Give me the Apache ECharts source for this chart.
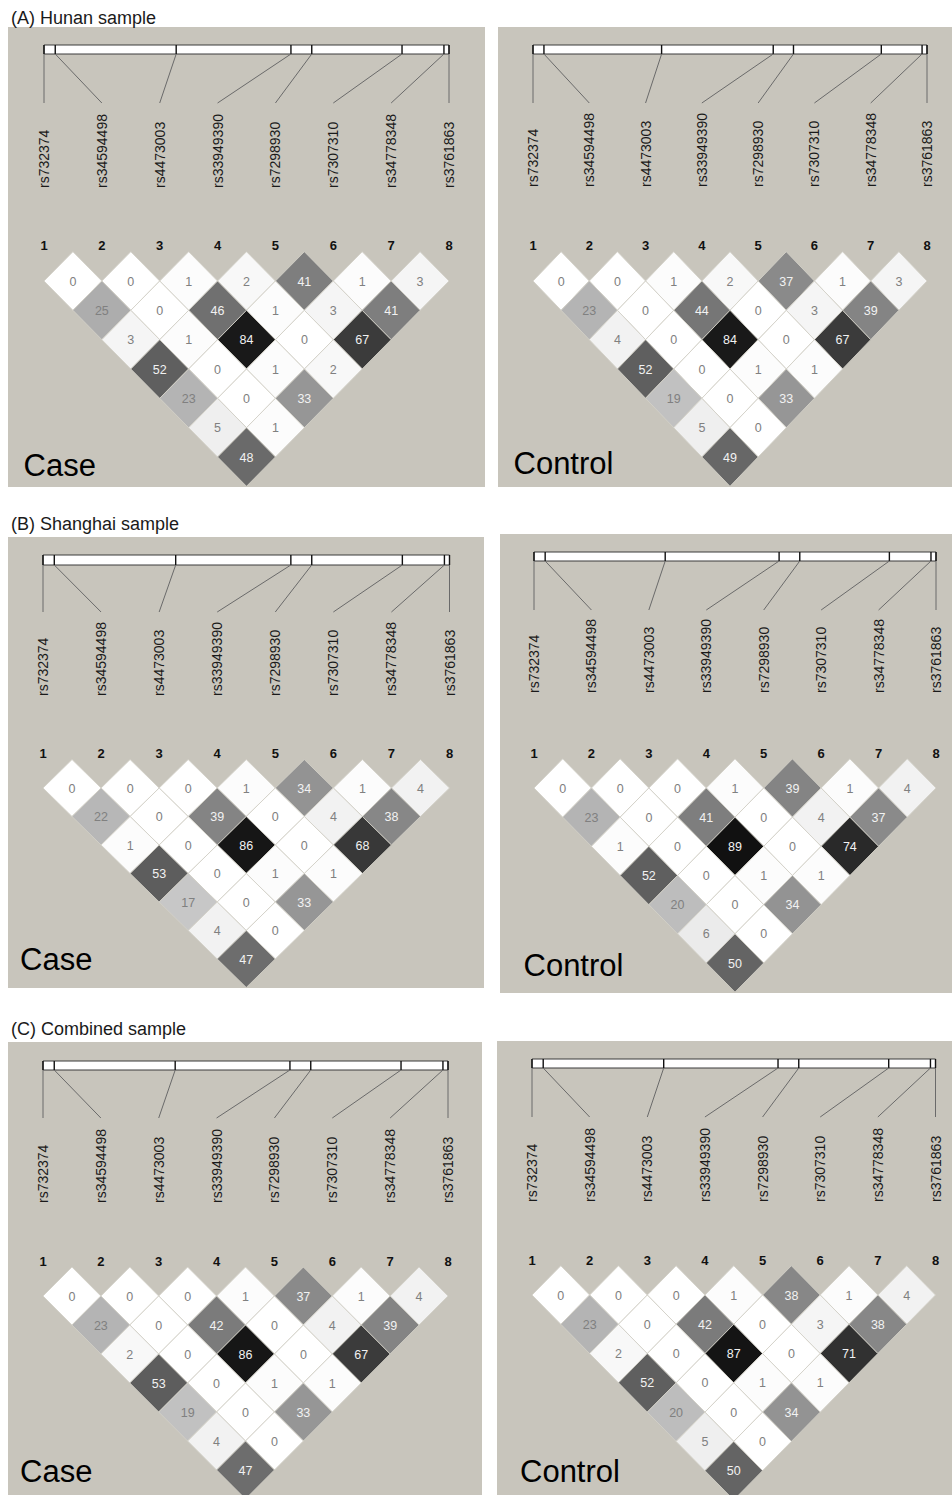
<!DOCTYPE html>
<html><head><meta charset="utf-8">
<script src="https://cdn.jsdelivr.net/npm/echarts@6/dist/echarts.min.js"></script>
<style>html,body{margin:0;padding:0;background:#fff}#c{width:952px;height:1495px}</style>
</head><body><div id="c"></div>
<script>
// ---------------- data ----------------
const snpNames = ['rs732374','rs34594498','rs4473003','rs33949390','rs7298930','rs7307310','rs34778348','rs3761863'];
const snpIndex = [1,2,3,4,5,6,7,8];
const snpPosKb = [0, 4.0, 47.0, 87.8, 95.2, 127.3, 142.2, 144.0];   // relative physical positions (estimated)
const sectionTitles = ['(A) Hunan sample','(B) Shanghai sample','(C) Combined sample'];
const groupLabels = ['Case','Control'];
// r^2 x 100; each inner array = pairs at SNP distance 1..7, left to right
const hunanCase = [[0,0,1,2,41,1,3],[25,0,46,1,3,41],[3,1,84,0,67],[52,0,1,2],[23,0,33],[5,1],[48]];
const hunanControl = [[0,0,1,2,37,1,3],[23,0,44,0,3,39],[4,0,84,0,67],[52,0,1,1],[19,0,33],[5,0],[49]];
const shanghaiCase = [[0,0,0,1,34,1,4],[22,0,39,0,4,38],[1,0,86,0,68],[53,0,1,1],[17,0,33],[4,0],[47]];
const shanghaiControl = [[0,0,0,1,39,1,4],[23,0,41,0,4,37],[1,0,89,0,74],[52,0,1,1],[20,0,34],[6,0],[50]];
const combinedCase = [[0,0,0,1,37,1,4],[23,0,42,0,4,39],[2,0,86,0,67],[53,0,1,1],[19,0,33],[4,0],[47]];
const combinedControl = [[0,0,0,1,38,1,4],[23,0,42,0,3,38],[2,0,87,0,71],[52,0,1,1],[20,0,34],[5,0],[50]];

// ---------------- layout ----------------
const panels = [
 {data:hunanCase, sec:0, grp:0, bg:[8,27,485,487], x1:44, x8:449, barTop:45, barBot:54, lineEnd:103, textBottom:188, numY:245, row0:281, rowLast:457, lx:23.5, ly:465.3},
 {data:hunanControl, sec:0, grp:1, bg:[498,27,952,487], x1:533, x8:927, barTop:45, barBot:54, lineEnd:103, textBottom:187, numY:245, row0:281, rowLast:457, lx:513.5, ly:463.5},
 {data:shanghaiCase, sec:1, grp:0, bg:[8,537,484,988], x1:43, x8:449.5, barTop:555, barBot:565, lineEnd:612, textBottom:696, numY:753, row0:788, rowLast:959, lx:20, ly:959},
 {data:shanghaiControl, sec:1, grp:1, bg:[500,534,952,993], x1:534, x8:936, barTop:552, barBot:561, lineEnd:610, textBottom:693, numY:753, row0:788, rowLast:963, lx:523.5, ly:965},
 {data:combinedCase, sec:2, grp:0, bg:[8,1042,482,1495], x1:43, x8:448, barTop:1061, barBot:1070, lineEnd:1118, textBottom:1203, numY:1261, row0:1296, rowLast:1470, lx:20, ly:1471},
 {data:combinedControl, sec:2, grp:1, bg:[497,1041,952,1495], x1:532, x8:935.5, barTop:1059, barBot:1068, lineEnd:1117, textBottom:1202, numY:1260, row0:1295, rowLast:1470.7, lx:520, ly:1471}
];
const sectionTitleY = [17.5, 523.5, 1028.5];
const BG = '#c8c5bc';
const FONT = 'Liberation Sans, Arial, sans-serif';
const nSnp = snpIndex.length;
const nRows = nSnp - 1;

const grids = [], xAxes = [], yAxes = [], series = [], graphics = [], titles = [];
const diamondSeries = [];

sectionTitles.forEach((t, s) => {
  titles.push({text: t, left: 11, top: sectionTitleY[s] - 11, padding: 0,
    textStyle: {fontSize: 18, fontWeight: 'normal', color: '#1a1a1a', fontFamily: FONT, lineHeight: 22}});
});

panels.forEach((L, k) => {
  const step = (L.rowLast - L.row0) / (nRows - 1);
  const gTop = L.row0 - step;
  grids.push({left: L.x1, top: gTop, width: L.x8 - L.x1, height: (nRows + 1) * step,
              containLabel: false, outerBoundsMode: 'none', show: false});
  graphics.push({type: 'rect', z: -10, silent: true,
    shape: {x: L.bg[0], y: L.bg[1], width: L.bg[2] - L.bg[0], height: L.bg[3] - L.bg[1]},
    style: {fill: BG}});
  titles.push({text: groupLabels[L.grp], left: L.lx, top: L.ly - 18, padding: 0,
    textStyle: {fontSize: 31, fontWeight: 'normal', color: '#000', fontFamily: FONT, lineHeight: 36}});

  const common = {type: 'value', gridIndex: k, position: 'top', min: snpIndex[0], max: snpIndex[nSnp - 1], interval: 1,
    axisLine: {show: false}, axisTick: {show: false}, splitLine: {show: false}};
  // index numbers
  xAxes.push(Object.assign({}, common, {axisLabel: {show: true, margin: gTop - L.numY, verticalAlign: 'middle',
    fontWeight: 'bold', fontSize: 13, color: '#111', fontFamily: FONT, showMinLabel: true, showMaxLabel: true, hideOverlap: false,
    formatter: v => String(snpIndex[Math.round(v) - 1])}}));
  // SNP names
  xAxes.push(Object.assign({}, common, {axisLabel: {show: true, margin: gTop - L.textBottom, rotate: -90,
    fontSize: 14, color: '#1a1a1a', fontFamily: FONT, showMinLabel: true, showMaxLabel: true, hideOverlap: false,
    formatter: v => snpNames[Math.round(v) - 1]}}));
  yAxes.push({type: 'value', gridIndex: k, min: -1, max: nRows, inverse: true, show: false});

  // physical map: bar, ticks, connector lines
  const p0 = snpPosKb[0], pN = snpPosKb[nSnp - 1];
  series.push({type: 'custom', xAxisIndex: 2 * k, yAxisIndex: k, clip: false, silent: true, z: 3,
    data: snpIndex.map((idx, m) => [idx, snpPosKb[m]]),
    renderItem: (params, api) => {
      const idx = api.value(0), pos = api.value(1);
      const frac = snpIndex[0] + (nSnp - 1) * (pos - p0) / (pN - p0);
      const tx = api.coord([frac, 0])[0];
      const lx = api.coord([idx, 0])[0];
      const ch = [];
      if (params.dataIndex === 0) {
        const xa = api.coord([snpIndex[0], 0])[0], xb = api.coord([snpIndex[nSnp - 1], 0])[0];
        ch.push({type: 'rect', shape: {x: xa, y: L.barTop, width: xb - xa, height: L.barBot - L.barTop},
          style: {fill: '#ffffff', stroke: '#3a3a3a', lineWidth: 1}});
      }
      ch.push({type: 'line', shape: {x1: tx, y1: L.barTop, x2: tx, y2: L.barBot}, style: {stroke: '#111', lineWidth: 1.4}});
      ch.push({type: 'line', shape: {x1: tx, y1: L.barBot, x2: lx, y2: L.lineEnd}, style: {stroke: '#6a6a6a', lineWidth: 1}});
      return {type: 'group', children: ch};
    }});

  // LD diamonds
  const dd = [];
  L.data.forEach((row, r) => row.forEach((v, m) => {
    const i = snpIndex[m], j = snpIndex[m + r + 1];
    dd.push([(i + j) / 2, r, v]);
  }));
  diamondSeries.push(series.length);
  series.push({type: 'custom', xAxisIndex: 2 * k, yAxisIndex: k, clip: false, silent: true, z: 4,
    dimensions: ['cx', 'row', 'r2'], encode: {x: 0, y: 1},
    data: dd,
    renderItem: (params, api) => {
      const cx = api.value(0), r = api.value(1), v = api.value(2);
      const c = api.coord([cx, r]), t = api.coord([cx, r - 1]), b = api.coord([cx, r + 1]);
      const l = api.coord([cx - 0.5, r]), rt = api.coord([cx + 0.5, r]);
      return {type: 'group', children: [
        {type: 'polygon', shape: {points: [t, rt, b, l]},
          style: {fill: api.visual('color'), stroke: '#d3d0c7', lineWidth: 0.9}},
        {type: 'text', style: {x: c[0], y: c[1] + 0.5, text: String(v), fill: v >= 30 ? '#f2f2f2' : '#808080',
          fontSize: 12.5, fontFamily: FONT, align: 'center', verticalAlign: 'middle'}}
      ]};
    }});
});

const chart = echarts.init(document.getElementById('c'), null, {renderer: 'svg', width: 952, height: 1495});
chart.setOption({
  animation: false,
  backgroundColor: '#ffffff',
  title: titles,
  grid: grids,
  xAxis: xAxes,
  yAxis: yAxes,
  visualMap: {type: 'continuous', show: false, min: 0, max: 100, dimension: 2, seriesIndex: diamondSeries,
    inRange: {color: ['#ffffff', '#adadad', '#646464', '#272727', '#000000']}},
  graphic: {elements: graphics},
  series: series
});
</script></body></html>
